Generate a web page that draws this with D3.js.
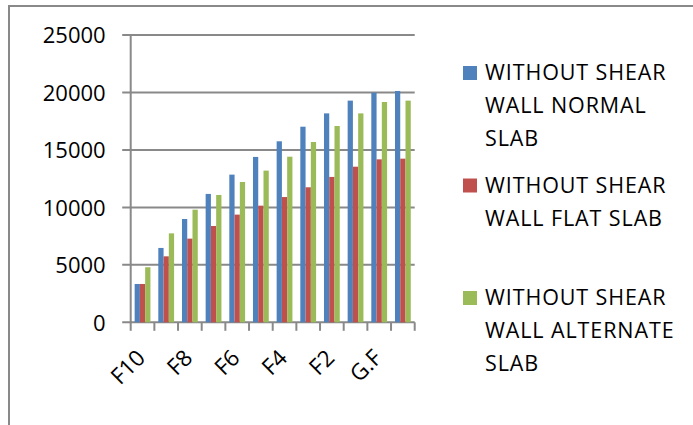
<!DOCTYPE html>
<html>
<head>
<meta charset="utf-8">
<script src="https://cdn.jsdelivr.net/npm/d3@7"></script>
<style>
  html, body { margin: 0; padding: 0; background: #ffffff; }
  svg { display: block; }
  text { font-family: "Open Sans", "Liberation Sans", sans-serif; fill: #000; }
</style>
</head>
<body>
<svg id="chart" width="693" height="425"></svg>
<script>
// Floor labels, bottom of building last
const floors = ["F10", "F9", "F8", "F7", "F6", "F5", "F4", "F3", "F2", "F1", "G.F", "PLINTH"];

// Storey shear per floor for each slab system
const normalSlab    = [3335, 6470, 8990, 11170, 12850, 14390, 15750, 17020, 18180, 19290, 19980, 20130];
const flatSlab      = [3335, 5740, 7280, 8380, 9370, 10150, 10900, 11750, 12650, 13540, 14180, 14240];
const alternateSlab = [4790, 7740, 9800, 11080, 12210, 13200, 14410, 15690, 17080, 18180, 19170, 19290];

const seriesNames = [
  "WITHOUT SHEAR WALL NORMAL SLAB",
  "WITHOUT SHEAR WALL FLAT SLAB",
  "WITHOUT SHEAR WALL ALTERNATE SLAB"
];
const seriesColors = ["#4F81BD", "#C0504D", "#9BBB59"];
const yTicks = [0, 5000, 10000, 15000, 20000, 25000];

const seriesValues = [normalSlab, flatSlab, alternateSlab];
const rows = floors.map((f, i) => ({
  floor: f,
  values: seriesValues.map((vals, s) => ({ s, v: vals[i] }))
}));

const svg = d3.select("#chart");
const gridColor = "#898989";

// outer frame (runs off the right and bottom edges)
svg.append("path")
  .attr("d", "M9,425 L9,6 L693,6")
  .attr("fill", "none")
  .attr("stroke", gridColor)
  .attr("stroke-width", 2);

const plot = { left: 130.7, right: 414.7, top: 35, bottom: 322.3 };

const x = d3.scaleBand()
  .domain(floors)
  .range([plot.left, plot.right])
  .padding(0);

const gap = x.bandwidth() / 3;
const x1 = d3.scaleBand()
  .domain(d3.range(seriesNames.length))
  .range([gap / 2, x.bandwidth() - gap / 2])
  .padding(0);

const y = d3.scaleLinear()
  .domain([0, 25000])
  .range([plot.bottom, plot.top]);

// horizontal gridlines with outward tick marks
svg.append("g")
  .selectAll("line")
  .data(yTicks)
  .join("line")
  .attr("x1", plot.left - 8.5)
  .attr("x2", plot.right)
  .attr("y1", d => y(d))
  .attr("y2", d => y(d))
  .attr("stroke", gridColor)
  .attr("stroke-width", 2);

// bars
svg.append("g")
  .selectAll("g")
  .data(rows)
  .join("g")
  .attr("transform", d => `translate(${x(d.floor)},0)`)
  .selectAll("rect")
  .data(d => d.values)
  .join("rect")
  .attr("x", d => x1(d.s))
  .attr("width", x1.bandwidth())
  .attr("y", d => y(d.v))
  .attr("height", d => y(0) - y(d.v))
  .attr("fill", d => seriesColors[d.s]);

// vertical axis line
svg.append("line")
  .attr("x1", plot.left).attr("x2", plot.left)
  .attr("y1", plot.top).attr("y2", plot.bottom + 1)
  .attr("stroke", gridColor)
  .attr("stroke-width", 2);

// y tick labels
const yAxis = d3.axisLeft(y).tickValues(yTicks).tickFormat(d3.format("d")).tickSize(0).tickPadding(0);
const gy = svg.append("g")
  .attr("transform", `translate(${plot.left - 25},0)`)
  .call(yAxis);
gy.attr("font-family", null).attr("font-size", null);
gy.select(".domain").remove();
gy.selectAll("text")
  .attr("font-size", 22)
  .attr("dy", "0.36em");

// category boundary ticks below the axis
const boundaries = floors.map(f => x(f)).concat([plot.right]);
svg.append("g")
  .selectAll("line")
  .data(boundaries)
  .join("line")
  .attr("x1", d => d).attr("x2", d => d)
  .attr("y1", plot.bottom).attr("y2", plot.bottom + 8.5)
  .attr("stroke", gridColor)
  .attr("stroke-width", 2);

// rotated category labels, every second floor
svg.append("g")
  .selectAll("text")
  .data(floors.filter((f, i) => i % 2 === 0))
  .join("text")
  .attr("transform", d => `translate(${x(d) + x.bandwidth() / 2 + 4},${plot.bottom + 37}) rotate(-45)`)
  .attr("text-anchor", "end")
  .attr("font-size", 22.5)
  .text(d => d);

// legend with wrapped entries
const legend = svg.append("g").attr("transform", "translate(463,0)");
const lineH = 33;
const wrapWidth = 205;
seriesNames.forEach((name, i) => {
  const base = 80 + i * 112.5;
  legend.append("rect")
    .attr("x", 0).attr("y", base - 14)
    .attr("width", 14).attr("height", 14)
    .attr("fill", seriesColors[i]);
  const t = legend.append("text")
    .attr("x", 22).attr("y", base)
    .attr("font-size", 21.5)
    .attr("letter-spacing", "0.9px");
  const words = name.split(" ");
  let line = [];
  let lineNo = 0;
  let tspan = t.append("tspan").attr("x", 22).attr("y", base);
  words.forEach(w => {
    line.push(w);
    tspan.text(line.join(" "));
    if (tspan.node().getComputedTextLength() > wrapWidth && line.length > 1) {
      line.pop();
      tspan.text(line.join(" "));
      line = [w];
      lineNo += 1;
      tspan = t.append("tspan").attr("x", 22).attr("y", base + lineNo * lineH).text(w);
    }
  });
});
</script>
</body>
</html>
